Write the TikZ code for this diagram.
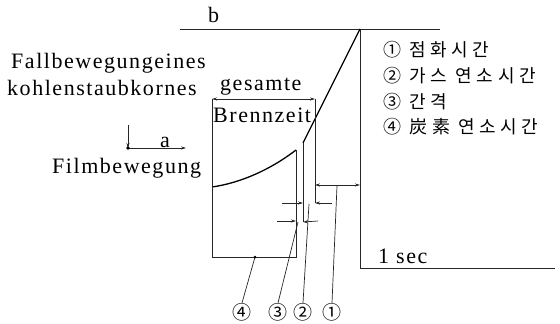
\documentclass[tikz,border=0pt]{standalone}
\usepackage{fontspec}
\setmainfont{Liberation Serif}
\newfontfamily\spaced{Liberation Serif}[LetterSpace=7]
\newfontfamily\kr{Noto Sans CJK KR}[LetterSpace=25]
\newfontfamily\krnum{Noto Sans CJK KR}
\usetikzlibrary{arrows.meta, positioning}

\begin{document}
\begin{tikzpicture}[
    x=1pt, y=-1pt,
    line/.style={draw=black!85, line width=0.7pt},
    trace/.style={draw=black, line width=1.3pt},
    dim/.style={line, {Stealth[length=5pt,width=3pt]}-{Stealth[length=5pt,width=3pt]}},
    tip/.style={line, -{Stealth[length=5pt,width=3pt]}},
    txt/.style={inner sep=0pt, anchor=base west, font=\fontsize{22}{24}\spaced},
    leg/.style={inner sep=0pt, anchor=west, font=\fontsize{18}{20}\kr},
    num/.style={inner sep=0pt, font=\fontsize{19}{21}\krnum}
  ]
  \useasboundingbox (0,0) rectangle (560,324);

  \coordinate (bL) at (180,29);
  \coordinate (bR) at (440,29);
  \coordinate (start) at (360,29);
  \coordinate (secA) at (360,268);
  \coordinate (secB) at (555,268);
  \coordinate (kink) at (303,143);
  \coordinate (gasEnd) at (303,222);
  \coordinate (peak) at (296,150);
  \coordinate (curveL) at (212,187);
  \coordinate (boxTL) at (212,99);
  \coordinate (boxBL) at (212,257);
  \coordinate (boxBR) at (296,257);
  \coordinate (ignTop) at (315,99);
  \coordinate (ignBot) at (315,203);
  \coordinate (o) at (128,148);
  \coordinate (fallTop) at (128,125);
  \coordinate (filmEnd) at (186,148);

  \node (b) [txt] at (208,23) {b};
  \node (fall) [txt] at (11,68) {Fallbewegungeines};
  \node (korn) [txt] at (7,95) {kohlenstaubkornes};
  \node (a) [txt] at (160,147) {a};
  \node (film) [txt] at (52,173) {Filmbewegung};
  \node (gesamte) [txt] at (220,90) {gesamte};
  \node (brenn) [txt] at (213,122) {Brennzeit};
  \node (sec) [txt] at (378,263) {1 sec};

  \node (l1) [leg] at (383,50) {① 점화시간};
  \node (l2) [leg] at (383,76) {② 가스 연소시간};
  \node (l3) [leg] at (383,102) {③ 간격};
  \node (l4) [leg] at (383,127) {④ 炭素 연소시간};

  \node (n4) [num] at (242,312) {④};
  \node (n3) [num] at (278,312) {③};
  \node (n2) [num] at (303,312) {②};
  \node (n1) [num] at (332,312) {①};

  \draw[line] (bL) -- (bR);
  \draw[line] (start) -- (secA) -- (secB);
  \draw[trace] (start) -- (kink);
  \draw[line] (kink) -- (gasEnd);
  \draw[trace] (curveL) .. controls (240,183) and (270,170) .. (peak);
  \draw[line] (boxTL) -- (boxBL) -- (boxBR) -- (peak);
  \draw[line] (ignTop) -- (ignBot);

  \draw[dim] (boxTL) -- (ignTop);
  \draw[dim] (315,185) -- (360,185);
  \draw[tip] (282,203) -- (303,203);
  \draw[tip] (332,203) -- (ignBot);
  \draw[tip] (277,221) -- (296,221);
  \draw[tip] (318,221) -- (gasEnd);

  \draw[line] (n1.north) -- (337,186);
  \draw[line] (n2.north) -- (309,204);
  \draw[line] (n3.north) -- (298,222);
  \draw[line] (n4.north) -- (255,257);
  \fill (255,257) circle (1.5);

  \draw[tip] (fallTop) -- (o);
  \draw[tip] (o) -- (filmEnd);
  \fill (o) circle (1.8);
\end{tikzpicture}
\end{document}
